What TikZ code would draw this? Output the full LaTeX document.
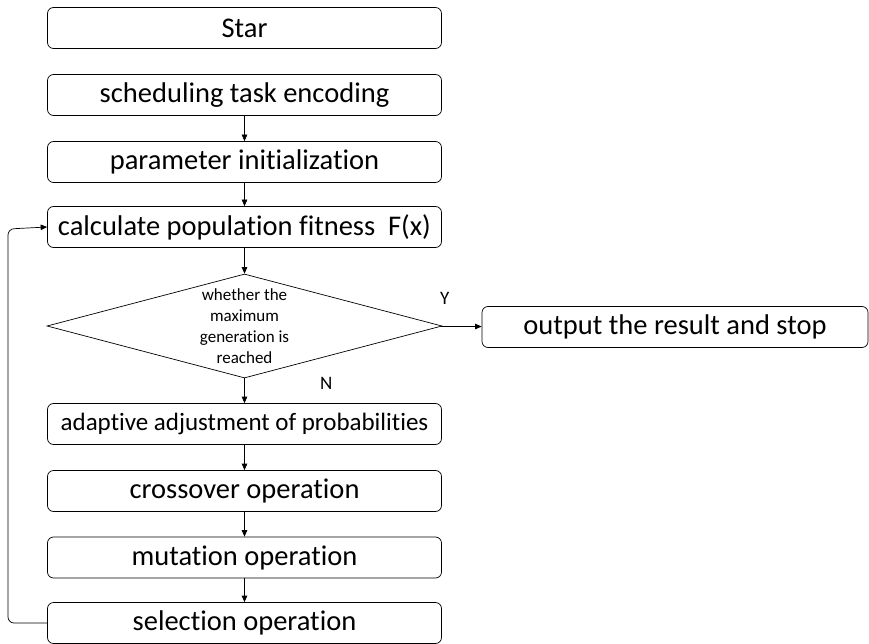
\documentclass[tikz,border=0pt]{standalone}
\usepackage{fontspec}
\setmainfont{Carlito}[Ligatures=NoCommon]
\usepackage{tikz}
\usetikzlibrary{arrows.meta, positioning, shapes.geometric}

\begin{document}
\begin{tikzpicture}[
    x=1pt, y=-1pt,
    stepbox/.style={rectangle, draw, line width=0.7pt, rounded corners=6pt, minimum width=394pt, minimum height=41pt, inner sep=0pt, font=\fontsize{28.5}{32}\selectfont},
    decide/.style={diamond, draw, line width=0.7pt, aspect=3.8, minimum width=395pt, minimum height=104pt, inner sep=0pt, align=center, font=\fontsize{17}{21}\selectfont},
    lbl/.style={font=\fontsize{19}{22}\selectfont},
    arr/.style={-{Triangle[length=6.5pt, width=5.5pt]}, line width=0.7pt},
  ]
  \useasboundingbox (0,0) rectangle (869,644);

  \node[stepbox] (start) at (244.5,28) {Star};
  \node[stepbox] (encode) at (244.5,95) {scheduling task encoding};
  \node[stepbox] (init) at (244.5,162) {parameter initialization};
  \node[stepbox] (fitness) at (244.5,227) {calculate population fitness~~F(x)};
  \node[decide] (check) at (244.5,326) {whether the\\maximum\\generation is\\reached};
  \node[stepbox, minimum width=386pt] (result) at (675,327) {output the result and stop};
  \node[stepbox, font=\fontsize{25}{30}\selectfont] (adapt) at (244.5,424) {adaptive adjustment of probabilities};
  \node[stepbox] (cross) at (244.5,491) {crossover operation};
  \node[stepbox] (mutate) at (244.5,557.5) {mutation operation};
  \node[stepbox] (select) at (244.5,623) {selection operation};

  \draw[arr] (encode) -- (init);
  \draw[arr] (init) -- (fitness);
  \draw[arr] (fitness) -- (check);
  \draw[arr] (check) -- node[lbl, above=18pt, pos=0.1] {Y} (result);
  \draw[arr] (check) -- node[lbl, right=72pt, pos=0.2] {N} (adapt);
  \draw[arr] (adapt) -- (cross);
  \draw[arr] (cross) -- (mutate);
  \draw[arr] (mutate) -- (select);
  % loop back
  \draw[arr, rounded corners=6pt] (select.west) -- (8,623) -- (8,229) -- (fitness.west);
\end{tikzpicture}
\end{document}
